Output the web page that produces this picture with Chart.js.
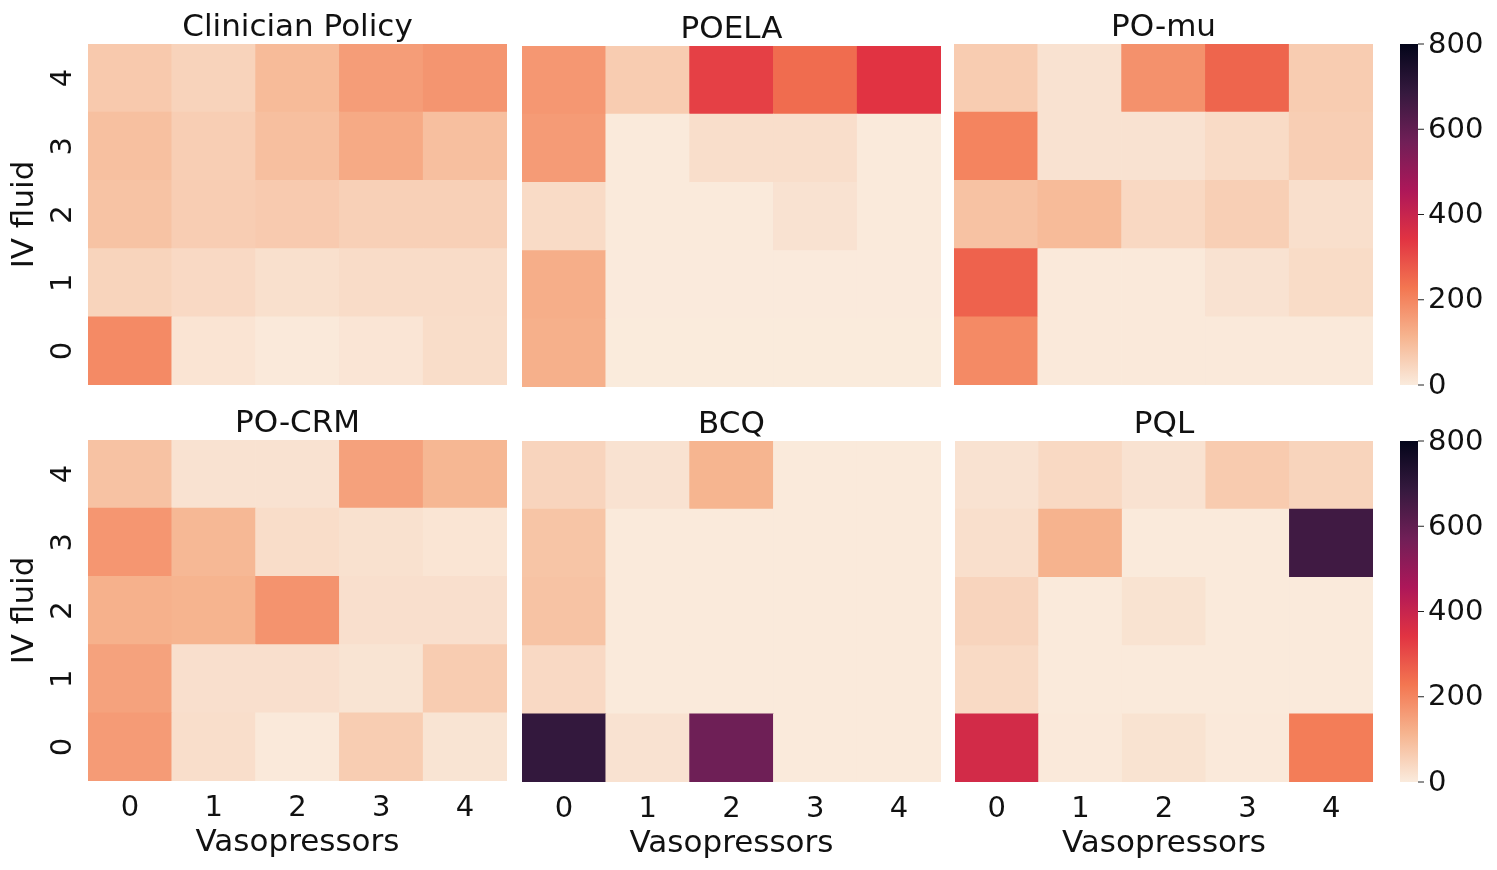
<!DOCTYPE html>
<html lang="en">
<head>
    <meta charset="UTF-8">
    <title>Policy heatmaps</title>
    <script src="https://cdn.jsdelivr.net/npm/chart.js"></script>
    <style>
        body { margin: 0; background: #fff; }
        #wrap { position: relative; width: 1497px; height: 870px; }
        #wrap canvas { position: absolute; left: 0; top: 0; }
    </style>
</head>
<body>
    <div id="wrap"></div>

    <script>
    // categories
    const vasoLevels = ['0', '1', '2', '3', '4'];
    const fluidLevels = [0, 1, 2, 3, 4];
    const colorbarTicks = [0, 200, 400, 600, 800];
    const maxValue = 800;

    // counts: one row per IV fluid level (0..4), one column per vasopressor level (0..4)
    const clinician = [
        [192, 14, 4, 12, 30],
        [48, 37, 23, 31, 31],
        [83, 62, 68, 56, 56],
        [89, 60, 91, 133, 91],
        [70, 50, 100, 157, 172]
    ];
    const poela = [
        [122, 1, 1, 1, 1],
        [125, 2, 2, 2, 2],
        [33, 3, 3, 18, 3],
        [160, 3, 27, 27, 3],
        [168, 64, 320, 245, 343]
    ];
    const poMu = [
        [192, 5, 5, 5, 5],
        [262, 4, 4, 18, 32],
        [85, 100, 40, 58, 25],
        [203, 18, 18, 34, 60],
        [64, 18, 179, 258, 65]
    ];
    const poCrm = [
        [160, 26, 4, 63, 15],
        [147, 24, 24, 15, 65],
        [120, 115, 176, 24, 24],
        [170, 105, 30, 20, 13],
        [85, 18, 18, 150, 108]
    ];
    const bcq = [
        [690, 18, 575, 3, 3],
        [37, 3, 3, 3, 3],
        [84, 3, 3, 3, 3],
        [80, 3, 3, 3, 3],
        [47, 18, 113, 3, 3]
    ];
    const pql = [
        [375, 5, 17, 5, 215],
        [35, 3, 3, 3, 3],
        [47, 3, 17, 3, 3],
        [25, 117, 3, 3, 665],
        [18, 38, 18, 67, 48]
    ];

    const W = 1497, H = 870;
    const FONT = '"DejaVu Sans", sans-serif';

    // seaborn "rocket_r" approximated by its key colours (fraction of max -> colour)
    const rocketStops = [
        [0, [250, 235, 221]],
        [1 / 7, [246, 180, 143]],
        [2 / 7, [243, 118, 81]],
        [3 / 7, [225, 51, 66]],
        [4 / 7, [173, 23, 89]],
        [5 / 7, [112, 31, 87]],
        [6 / 7, [53, 25, 62]],
        [1, [3, 5, 26]]
    ];

    function rocketR(v) {
        const f = Math.max(0, Math.min(1, v / maxValue));
        for (let i = 1; i < rocketStops.length; i++) {
            const [f1, c1] = rocketStops[i];
            const [f0, c0] = rocketStops[i - 1];
            if (f <= f1) {
                const t = (f - f0) / (f1 - f0);
                const c = c0.map((x, k) => Math.round(x + (c1[k] - x) * t));
                return 'rgb(' + c.join(',') + ')';
            }
        }
        return 'rgb(3,5,26)';
    }

    // plot areas in page pixels
    const panels = [
        { title: 'Clinician Policy', data: clinician, box: [88, 44, 507, 385], yAxis: true, xAxis: false },
        { title: 'POELA', data: poela, box: [522, 46, 941, 387], yAxis: false, xAxis: false },
        { title: 'PO-mu', data: poMu, box: [954, 44, 1373, 385], yAxis: false, xAxis: false },
        { title: 'PO-CRM', data: poCrm, box: [88, 440, 507, 781], yAxis: true, xAxis: true },
        { title: 'BCQ', data: bcq, box: [522, 441, 941, 782], yAxis: false, xAxis: true },
        { title: 'PQL', data: pql, box: [955, 441, 1373, 782], yAxis: false, xAxis: true }
    ];
    const colorbars = [[1400, 44, 1418, 385], [1400, 441, 1418, 782]];

    function newCanvas() {
        const c = document.createElement('canvas');
        c.width = W;
        c.height = H;
        document.getElementById('wrap').appendChild(c);
        return c.getContext('2d');
    }

    function padFor(box) {
        return { left: box[0], top: box[1], right: W - box[2], bottom: H - box[3] };
    }

    const labelPlugin = {
        id: 'panelLabels',
        afterDraw(chart, args, opts) {
            const ctx = chart.ctx;
            const area = chart.chartArea;
            const xs = chart.scales.x, ys = chart.scales.y;
            ctx.save();
            ctx.fillStyle = '#111';
            ctx.textAlign = 'center';
            ctx.textBaseline = 'alphabetic';

            ctx.font = '31px ' + FONT;
            ctx.fillText(opts.title, (area.left + area.right) / 2, area.top - 8);

            if (opts.xAxis) {
                ctx.font = '29px ' + FONT;
                vasoLevels.forEach((lab, i) => {
                    ctx.fillText(lab, xs.getPixelForValue(i), area.bottom + 35);
                });
                ctx.font = '31px ' + FONT;
                ctx.fillText('Vasopressors', (area.left + area.right) / 2, area.bottom + 70);
            }

            if (opts.yAxis) {
                ctx.font = '29px ' + FONT;
                fluidLevels.forEach(r => {
                    ctx.save();
                    ctx.translate(area.left - 17, ys.getPixelForValue(r));
                    ctx.rotate(-Math.PI / 2);
                    ctx.fillText(String(r), 0, 0);
                    ctx.restore();
                });
                ctx.save();
                ctx.font = '31px ' + FONT;
                ctx.translate(area.left - 55, (area.top + area.bottom) / 2);
                ctx.rotate(-Math.PI / 2);
                ctx.fillText('IV fluid', 0, 0);
                ctx.restore();
            }
            ctx.restore();
        }
    };

    panels.forEach(p => {
        const datasets = fluidLevels.map(r => ({
            data: vasoLevels.map(() => [r - 0.5, r + 0.5]),
            backgroundColor: p.data[r].map(rocketR),
            borderWidth: 0,
            barPercentage: 1,
            categoryPercentage: 1,
            grouped: false
        }));
        new Chart(newCanvas(), {
            type: 'bar',
            data: { labels: vasoLevels, datasets: datasets },
            options: {
                responsive: false,
                animation: false,
                events: [],
                layout: { padding: padFor(p.box) },
                plugins: {
                    legend: { display: false },
                    tooltip: { enabled: false },
                    panelLabels: { title: p.title, xAxis: p.xAxis, yAxis: p.yAxis }
                },
                scales: {
                    x: { display: false, offset: true },
                    y: { display: false, min: -0.5, max: 4.5 }
                }
            },
            plugins: [labelPlugin]
        });
    });

    const colorbarPlugin = {
        id: 'colorbarTicks',
        afterDraw(chart) {
            const ctx = chart.ctx;
            const area = chart.chartArea;
            const ys = chart.scales.y;
            ctx.save();
            ctx.strokeStyle = '#222';
            ctx.lineWidth = 1;
            ctx.fillStyle = '#111';
            ctx.font = '29px ' + FONT;
            ctx.textAlign = 'left';
            ctx.textBaseline = 'middle';
            colorbarTicks.forEach(t => {
                const y = ys.getPixelForValue(t);
                ctx.beginPath();
                ctx.moveTo(area.right, y);
                ctx.lineTo(area.right + 6, y);
                ctx.stroke();
                ctx.fillText(String(t), area.right + 10, y + 1);
            });
            ctx.restore();
        }
    };

    colorbars.forEach(box => {
        new Chart(newCanvas(), {
            type: 'bar',
            data: {
                labels: [''],
                datasets: [{
                    data: [[0, maxValue]],
                    borderWidth: 0,
                    barPercentage: 1,
                    categoryPercentage: 1,
                    backgroundColor(c) {
                        const area = c.chart.chartArea;
                        if (!area) return rocketR(0);
                        const g = c.chart.ctx.createLinearGradient(0, area.bottom, 0, area.top);
                        rocketStops.forEach(([f, col]) => g.addColorStop(f, 'rgb(' + col.join(',') + ')'));
                        return g;
                    }
                }]
            },
            options: {
                responsive: false,
                animation: false,
                events: [],
                layout: { padding: padFor(box) },
                plugins: { legend: { display: false }, tooltip: { enabled: false } },
                scales: {
                    x: { display: false },
                    y: { display: false, min: 0, max: maxValue }
                }
            },
            plugins: [colorbarPlugin]
        });
    });
    </script>
</body>
</html>
